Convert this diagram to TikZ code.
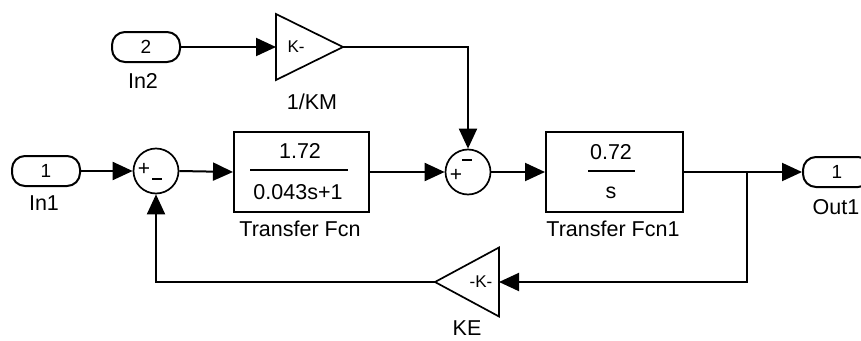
\documentclass[tikz,border=0pt]{standalone}
\usepackage{fontspec}
\setmainfont{Liberation Sans}
\usetikzlibrary{arrows.meta}
\tikzset{
  lw/.style={line width=2pt},
  port/.style={draw, lw, rounded corners=13pt, minimum width=68pt, minimum height=30pt, inner sep=0pt, font=\fontsize{19}{21}\selectfont},
  tfbox/.style={draw, lw, minimum height=80pt, inner sep=0pt},
  sumc/.style={draw, circle, line width=1.7pt, minimum size=45pt, inner sep=0pt},
  gainbb/.style={inner sep=0pt, outer sep=0pt},
  gaintri/.style={line width=1.7pt},
  conn/.style={lw, -{Triangle[length=20pt,width=18pt]}},
  lbl/.style={font=\fontsize{21.5}{24}\selectfont, inner sep=0pt},
  ktxt/.style={font=\fontsize{17}{20}\selectfont, inner sep=0pt},
  sgn/.style={font=\fontsize{21}{23}\selectfont, inner sep=0pt}
}
\begin{document}
\begin{tikzpicture}[x=1pt,y=-1pt]
\useasboundingbox (0,0) rectangle (861,340);
% ports
\node[port] (in2) at (146,47) {2};
\node[port] (in1) at (46,171) {1};
\node[port] (out1) at (837,172) {1};
\node[lbl] (in2l) at (143,81) {In2};
\node[lbl] (in1l) at (44,203) {In1};
\node[lbl] (out1l) at (836,207) {Out1};
% gain 1/KM
\node[gainbb, minimum width=67pt, minimum height=66pt] (gkm) at (309.5,47) {};
\draw[gaintri] (gkm.north west) -- (gkm.east) -- (gkm.south west) -- cycle;
\node[ktxt] (gkmt) at (296,47) {K-};
\node[lbl] (gkml) at (312,102) {1/KM};
% gain KE
\node[gainbb, minimum width=64pt, minimum height=69pt] (ke) at (467,282) {};
\draw[gaintri] (ke.north east) -- (ke.west) -- (ke.south east) -- cycle;
\node[ktxt] (ket) at (481,282) {-K-};
\node[lbl] (kel) at (467,328) {KE};
% sums
\node[sumc] (sum1) at (156,171) {};
\node[sgn] (s1p) at (144,169) {+};
\node[sgn] (s1m) at (157,179) {\rule[0pt]{10pt}{2pt}};
\node[sumc] (sum2) at (468,172) {};
\node[sgn] (s2p) at (456,175) {+};
\node[sgn] (s2m) at (467,160) {\rule[0pt]{10pt}{2pt}};
% transfer functions
\node[tfbox, minimum width=135pt] (tf1) at (301.5,172) {};
\node[lbl] (tf1n) at (300,151) {1.72};
\draw[lw] (250,170) -- (348,170);
\node[lbl] (tf1d) at (298,192) {0.043s+1};
\node[lbl] (tf1l) at (300,229) {Transfer Fcn};
\node[tfbox, minimum width=137pt] (tf2) at (614.5,172) {};
\node[lbl] (tf2n) at (611,152) {0.72};
\draw[lw] (588,171) -- (635,171);
\node[lbl] (tf2d) at (611,193) {s};
\node[lbl] (tf2l) at (613,229) {Transfer Fcn1};
% connectors
\coordinate (br) at (747,172);
\draw[conn] (in2.east) -- (gkm.west);
\draw[conn] (gkm.east) -| (sum2.north);
\draw[conn] (in1.east) -- (sum1.west);
\draw[conn] (sum1.east) -- (tf1.west);
\draw[conn] (tf1.east) -- (sum2.west);
\draw[conn] (sum2.east) -- (tf2.west);
\draw[conn] (tf2.east) -- (out1.west);
\draw[conn] (br) |- (ke.east);
\draw[conn] (ke.west) -| (sum1.south);
\end{tikzpicture}
\end{document}
